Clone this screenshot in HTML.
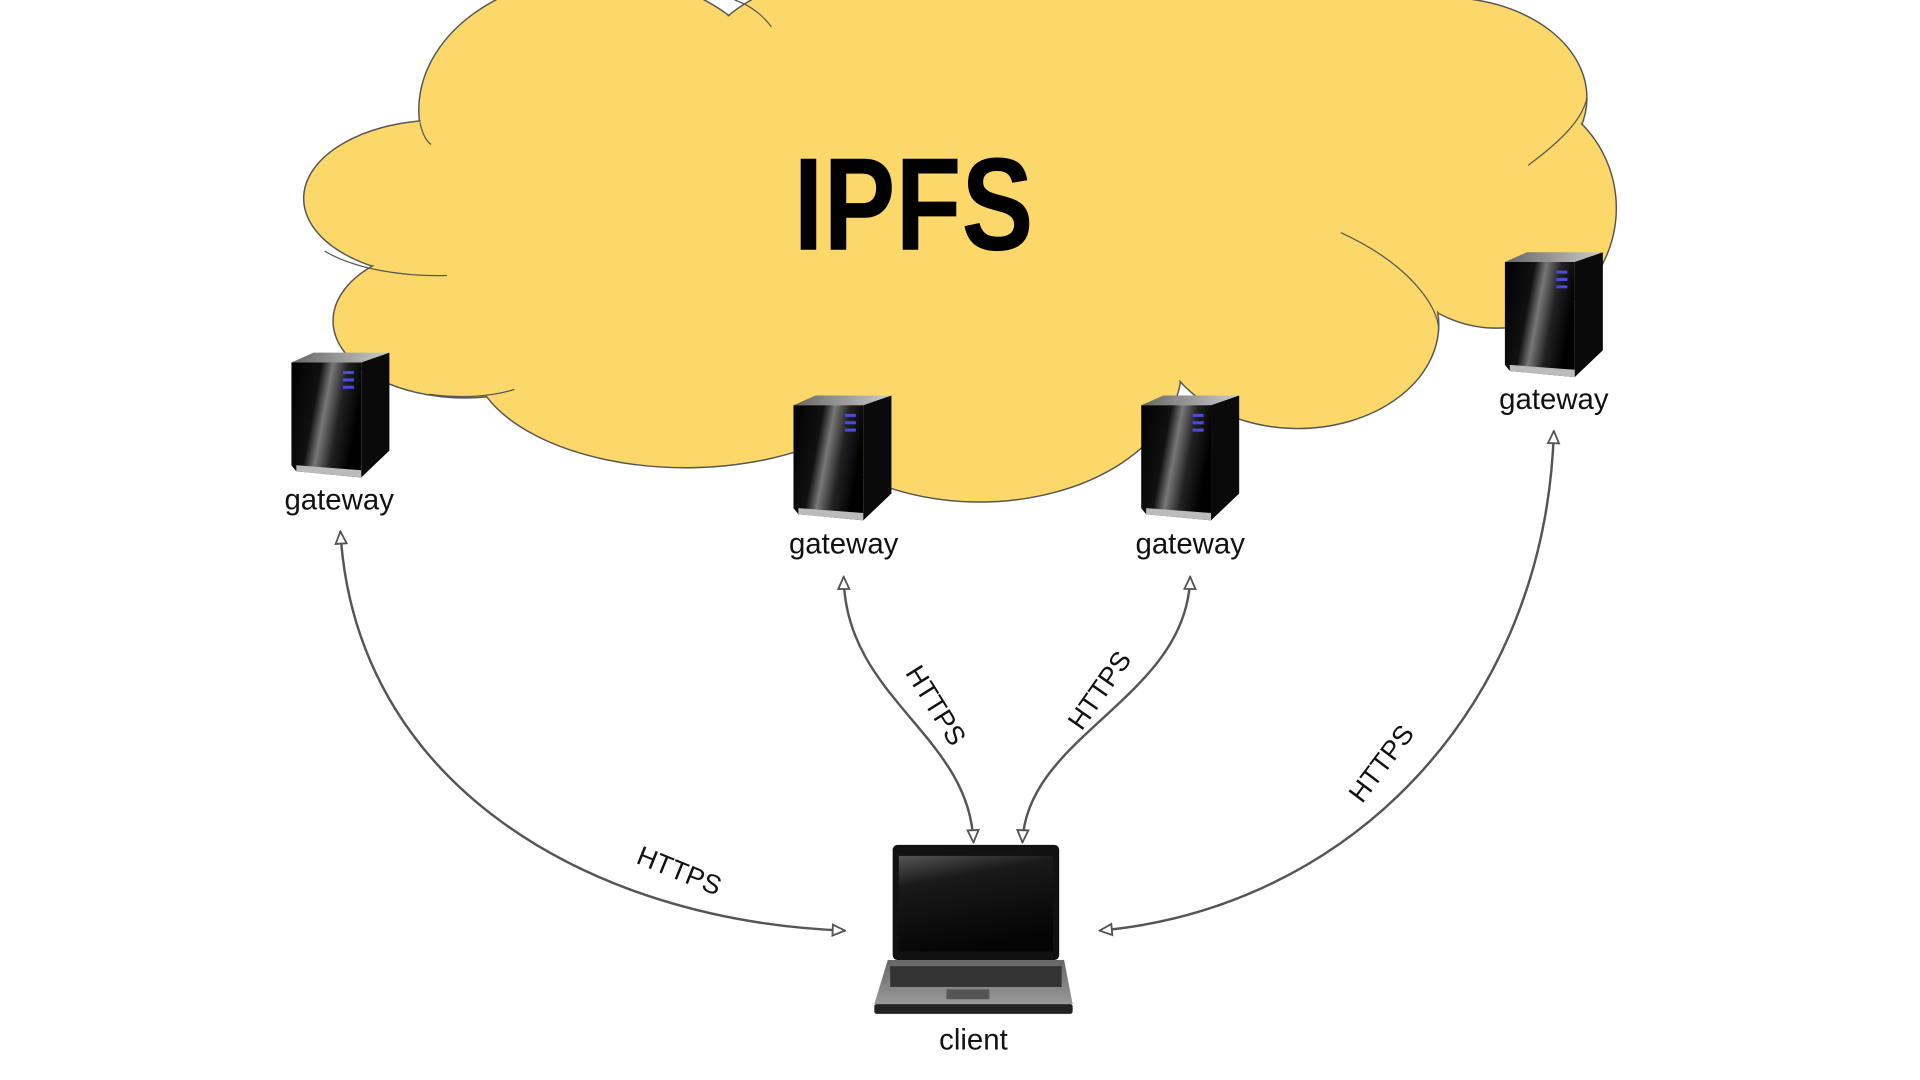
<!DOCTYPE html>
<html><head><meta charset="utf-8"><style>
html,body{margin:0;padding:0;background:#fff;}
svg{display:block;}
text{font-family:"Liberation Sans",sans-serif;}
</style></head><body>
<svg width="1920" height="1080" viewBox="0 0 1568 882" preserveAspectRatio="none" xmlns="http://www.w3.org/2000/svg">
<defs>
<linearGradient id="fr" x1="0" y1="0" x2="1" y2="0.3">
<stop offset="0" stop-color="#000"/><stop offset="0.4" stop-color="#111"/><stop offset="0.55" stop-color="#777"/><stop offset="0.75" stop-color="#222"/><stop offset="1" stop-color="#000"/>
</linearGradient>
<linearGradient id="tp" x1="0" y1="0" x2="1" y2="0"><stop offset="0" stop-color="#666"/><stop offset="1" stop-color="#ccc"/></linearGradient>
<linearGradient id="scr" x1="0" y1="0" x2="0.3" y2="1"><stop offset="0" stop-color="#555"/><stop offset="0.3" stop-color="#1a1a1a"/><stop offset="1" stop-color="#050505"/></linearGradient>
<linearGradient id="kb" x1="0" y1="0" x2="0" y2="1"><stop offset="0" stop-color="#666"/><stop offset="1" stop-color="#999"/></linearGradient>
<g id="srv">
<polygon points="0,8 18,0 80,0 57,8" fill="url(#tp)"/>
<polygon points="57,8 80,0 80,80 57,102" fill="#0a0a0a"/>
<polygon points="0,8 57,8 57,102 4,97 0,92" fill="url(#fr)"/>
<polygon points="4,92 57,96 57,102 4,97" fill="#bbb"/>
<rect x="42" y="15" width="9" height="2.5" fill="#4a4ae0"/>
<rect x="42" y="21" width="9" height="2.5" fill="#4a4ae0"/>
<rect x="42" y="27" width="9" height="2.5" fill="#4a4ae0"/>
</g>
<marker id="ar" viewBox="0 0 12 12" refX="11" refY="6" markerWidth="12" markerHeight="12" markerUnits="userSpaceOnUse" orient="auto-start-reverse">
<path d="M1,1.5 L11,6 L1,10.5 Z" fill="#fff" stroke="#555" stroke-width="1.5"/>
</marker>
</defs>
<g fill="#fcd86a" stroke="#555" stroke-width="1.2">
<ellipse cx="490" cy="90" rx="148" ry="110"/>
<ellipse cx="900" cy="40" rx="320" ry="90"/>
<ellipse cx="1180" cy="80" rx="116" ry="82"/>
<ellipse cx="1222" cy="170" rx="98" ry="98"/>
<ellipse cx="360" cy="162" rx="112" ry="64"/>
<ellipse cx="380" cy="262" rx="108" ry="63"/>
<ellipse cx="560" cy="290" rx="175" ry="92"/>
<ellipse cx="800" cy="300" rx="165" ry="110"/>
<ellipse cx="1060" cy="265" rx="115" ry="85"/>
</g>
<g fill="#fcd86a">
<ellipse cx="490" cy="90" rx="147" ry="109"/>
<ellipse cx="900" cy="40" rx="319" ry="89"/>
<ellipse cx="1180" cy="80" rx="115" ry="81"/>
<ellipse cx="1222" cy="170" rx="97" ry="97"/>
<ellipse cx="360" cy="162" rx="111" ry="63"/>
<ellipse cx="380" cy="262" rx="107" ry="62"/>
<ellipse cx="560" cy="290" rx="174" ry="91"/>
<ellipse cx="800" cy="300" rx="164" ry="109"/>
<ellipse cx="1060" cy="265" rx="114" ry="84"/>
<ellipse cx="790" cy="170" rx="440" ry="150"/>
</g>
<g fill="none" stroke="#555" stroke-width="1">
<path d="M1095,190 C1150,215 1175,250 1175,270"/>
<path d="M1248,135 C1275,115 1292,98 1296,80"/>
<path d="M265,205 C290,220 330,226 365,225"/>
<path d="M343,100 C345,110 348,115 352,118"/>
<path d="M600,0 C615,5 625,15 630,22"/>
<path d="M350,322 C380,326 405,323 420,318"/>
</g>
<text x="746" y="204" font-size="108" font-weight="bold" text-anchor="middle" textLength="196" lengthAdjust="spacingAndGlyphs" fill="#000">IPFS</text>
<use href="#srv" x="238" y="288"/>
<use href="#srv" x="648" y="323"/>
<use href="#srv" x="932" y="323"/>
<use href="#srv" x="1229" y="206"/>
<g font-size="24" text-anchor="middle" fill="#111">
<text x="277" y="416">gateway</text>
<text x="689" y="452">gateway</text>
<text x="972" y="452">gateway</text>
<text x="1269" y="334">gateway</text>
<text x="795" y="857">client</text>
</g>
<g fill="none" stroke="#555" stroke-width="2" marker-start="url(#ar)" marker-end="url(#ar)">
<path d="M278,434 C290,640 480,752 690,760"/>
<path d="M689,471 C690,570 792,600 795,688"/>
<path d="M972,471 C970,570 838,600 835,688"/>
<path d="M1269,352 C1262,580 1100,742 898,760"/>
</g>
<g font-size="22" fill="#111" text-anchor="middle">
<text transform="translate(552,718) rotate(22)">HTTPS</text>
<text transform="translate(758,580) rotate(58)">HTTPS</text>
<text transform="translate(904,568) rotate(-55)">HTTPS</text>
<text transform="translate(1134,628) rotate(-53)">HTTPS</text>
</g>
<g>
<rect x="729" y="690" width="136" height="94" rx="4" fill="#111"/>
<rect x="734" y="699" width="126" height="78" fill="url(#scr)"/>
<polygon points="725,784 869,784 876,820 714,820" fill="url(#kb)"/>
<rect x="727" y="789" width="140" height="17" fill="#333"/>
<rect x="773" y="808" width="35" height="8" fill="#555"/>
<rect x="714" y="820" width="162" height="8" rx="2" fill="#222"/>
</g>
</svg>
</body></html>
